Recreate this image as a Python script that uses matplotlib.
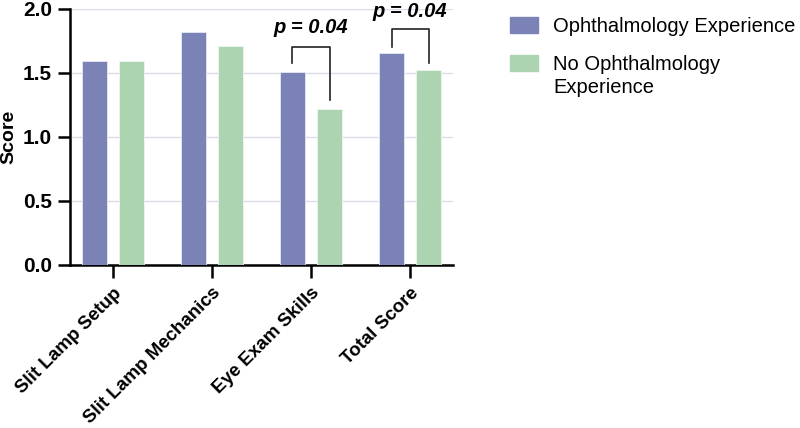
import numpy as np
import matplotlib.pyplot as plt
from matplotlib.patches import Rectangle

plt.rcParams['font.family'] = ['Liberation Sans', 'DejaVu Sans']

# ---------- data ----------
categories = ['Slit Lamp Setup', 'Slit Lamp Mechanics', 'Eye Exam Skills', 'Total Score']
ophth = [1.59, 1.82, 1.51, 1.66]
no_ophth = [1.59, 1.71, 1.22, 1.52]
series_names = ['Ophthalmology Experience', 'No Ophthalmology\nExperience']
yticks = [0.0, 0.5, 1.0, 1.5, 2.0]
# significance brackets: (category index, bracket top, left end, right end, text y, label)
brackets = [(2, 1.705, 1.575, 1.29, 1.855, 'p = 0.04'),
            (3, 1.84, 1.705, 1.575, 1.98, 'p = 0.04')]

c_blue = '#7b83b6'
c_green = '#acd4b1'

W, H = 800, 428
fig = plt.figure(figsize=(W / 100, H / 100), dpi=100)
ax = fig.add_axes([70 / W, 1 - 265 / H, 383 / W, 256 / H])

x = np.arange(len(categories))
off = 0.187
w = 0.25
ax.bar(x - off, ophth, w, color=c_blue, edgecolor='#e8e8f4', linewidth=0.6, zorder=3)
ax.bar(x + off, no_ophth, w, color=c_green, edgecolor='#eef6ef', linewidth=0.6, zorder=3)

for i, top, yl, yr, ty, lab in brackets:
    ax.plot([i - off, i - off, i + off, i + off], [yl, top, top, yr],
            color='#222222', lw=1.2, clip_on=False, zorder=4)
    ax.text(i, ty, lab, ha='center', va='center', fontsize=14.5,
            fontweight='bold', style='italic', clip_on=False)

ax.set_xlim(-0.434, 3.434)
ax.set_ylim(0, 2.0)
ax.set_yticks(yticks)
ax.set_yticklabels(['%.1f' % v for v in yticks], fontsize=15, fontweight='bold')
ax.set_xticks(x)
ax.set_xticklabels(categories, rotation=45, ha='right', rotation_mode='anchor',
                   fontsize=13.5, fontweight='bold')
ax.set_ylabel('Score', fontsize=14, fontweight='bold')
ax.yaxis.set_label_coords(-0.138, 0.5)

ax.yaxis.grid(True, color='#dcdce8', lw=1, zorder=0)
ax.set_axisbelow(True)
for s in ['top', 'right']:
    ax.spines[s].set_visible(False)
for s in ['left', 'bottom']:
    ax.spines[s].set_linewidth(1.8)
ax.tick_params(axis='both', width=1.8, length=9, direction='out')
ax.tick_params(axis='y', pad=4)
ax.tick_params(axis='x', pad=5)

# legend drawn by hand so the patch lines up with the first text line
legend_rows = [(25, c_blue, series_names[0]), (63, c_green, series_names[1])]
for yc, col, lab in legend_rows:
    fig.add_artist(Rectangle((510 / W, 1 - (yc + 8) / H), 28 / W, 16 / H,
                             transform=fig.transFigure, color=col))
    fig.text(553 / W, 1 - (yc - 8) / H, lab, ha='left', va='top',
             fontsize=14.5, linespacing=1.25)

fig.savefig('out.png', dpi=100)
